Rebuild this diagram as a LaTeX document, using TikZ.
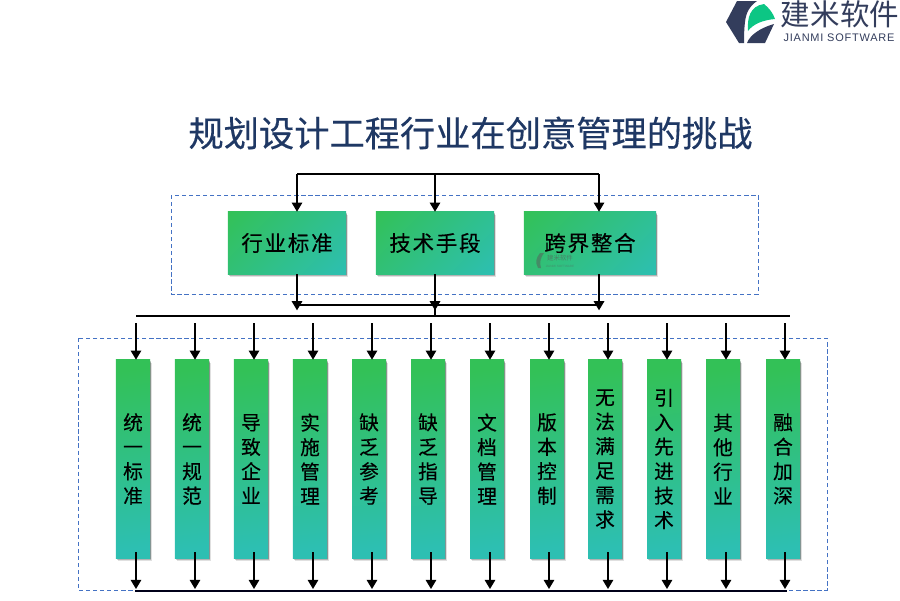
\documentclass[tikz,border=0pt]{standalone}
\usepackage{fontspec}
\setmainfont{Liberation Sans}
\newfontfamily\cjk{Noto Sans CJK SC}
\newfontfamily\cjkheavy[FakeBold=0.35]{Noto Sans CJK SC}
\newfontfamily\cjkwide[LetterSpace=8,FakeBold=0.35]{Noto Sans CJK SC}
\newfontfamily\subfont[LetterSpace=7]{Liberation Sans}
\usetikzlibrary{positioning,shadows,calc,arrows.meta}
\definecolor{navy}{HTML}{1F3864}
\definecolor{logoblue}{HTML}{333D5C}
\definecolor{leaf}{HTML}{0CC684}
\definecolor{dashblue}{HTML}{4472C4}
\definecolor{gtop}{HTML}{33C157}
\definecolor{gbot}{HTML}{2DBFB2}
\pgfdeclareverticalshading{boxramp}{100bp}{color(0bp)=(gbot); color(14.6bp)=(gbot); color(85.4bp)=(gtop); color(100bp)=(gtop)}

\begin{document}
\begin{tikzpicture}[
  x=0.025cm, y=-0.025cm,
  softshadow/.style={
    drop shadow={shadow xshift=0.4pt, shadow yshift=-0.9pt, fill=black, opacity=0.2},
    drop shadow={shadow xshift=1pt, shadow yshift=-1.5pt, fill=black, opacity=0.2},
    drop shadow={shadow xshift=1.6pt, shadow yshift=-2.2pt, fill=black, opacity=0.12}},
  hbox/.style={rectangle, minimum width=2.95cm, minimum height=1.55cm, inner sep=0pt,
    shading=boxramp, shading angle=45,
    softshadow, font=\cjkwide\fontsize{15.3}{18}\selectfont},
  vbox/.style={rectangle, minimum width=0.85cm, minimum height=4.95cm, inner sep=0pt,
    top color=gtop, bottom color=gbot, shading angle=8,
    softshadow, align=center, font=\cjkheavy\fontsize{14}{17.4}\selectfont},
  arrow/.style={-{Triangle[length=6.5pt,width=7.5pt]}, line width=0.95pt, black},
  bus/.style={line width=1.05pt, black},
  frame/.style={draw=dashblue, densely dashed, line width=0.45pt}
]
\useasboundingbox (0,0) rectangle (900,600);

% title
\node[text=navy, font=\cjkheavy\fontsize{25.07}{28}\selectfont] (title) at (470.5,133) {规划设计工程行业在创意管理的挑战};

% logo
\fill[logoblue] (737,1) -- (757,1) .. controls (750,6) and (746,12) .. (745,22) .. controls (744,30) and (744,37) .. (744,43) -- (739,43) -- (726,22) -- cycle;
\fill[logoblue] (747,43) .. controls (750,35) and (760,28) .. (774,24) -- (765,43) -- cycle;
\fill[leaf] (748,31) .. controls (747,18) and (750,6) .. (764,4) .. controls (769,8) and (773,13) .. (775,19) .. controls (763,20) and (753,24) .. (748,31) -- cycle;
\node[text=logoblue, font=\cjk\fontsize{21}{24}\selectfont] (brand) at (840,14) {建米软件};
\node[text=logoblue, font=\subfont\fontsize{7.8}{9}\selectfont] (brandsub) at (839,38) {JIANMI SOFTWARE};

% dashed frames
\draw[frame] (171,195) rectangle (758,294);
\draw[frame] (78,338) rectangle (827,590);

% upper boxes
\node[hbox] (std) at (287,243) {行业标准};
\node[hbox] (tech) at (435,243) {技术手段};
\node[hbox, minimum width=3.3cm] (cross) at (590,243) {跨界整合};

% watermark
\node[text=black!65, opacity=0.6, font=\cjk\fontsize{4.6}{6}\selectfont] (mark) at (560,258) {建米软件};
\node[text=black!65, opacity=0.45, font=\fontsize{2.2}{3}\selectfont] (marksub) at (560,266) {JIANMI SOFTWARE};
\fill[black!65, opacity=0.5] (540,253) .. controls (536,258) and (535,262) .. (538,268) -- (541,268) .. controls (539,262) and (541,257) .. (544,253) -- cycle;

% lower boxes
\foreach \i/\xc/\txt in {1/133/统\\一\\标\\准, 2/192/统\\一\\规\\范, 3/251/导\\致\\企\\业,
  4/310/实\\施\\管\\理, 5/369/缺\\乏\\参\\考, 6/428/缺\\乏\\指\\导, 7/487/文\\档\\管\\理,
  8/547/版\\本\\控\\制, 9/605/无\\法\\满\\足\\需\\求, 10/664/引\\入\\先\\进\\技\\术,
  11/723/其\\他\\行\\业, 12/783/融\\合\\加\\深}
  \node[vbox] (col\i) at (\xc,459) {\txt};

% bus ends
\coordinate (topL) at (297,174);
\coordinate (topM) at (435,174);
\coordinate (topR) at (599,174);
\coordinate (midL) at (297,305);
\coordinate (midR) at (599,305);
\coordinate (mainL) at (136,316);
\coordinate (mainR) at (790,316);
\coordinate (baseL) at (135,591);
\coordinate (baseR) at (787,591);

% top feed
\draw[bus] (topL) -- (topR);
\draw[arrow] (topL) -- (topL |- std.north);
\draw[arrow] (topM) -- (topM |- tech.north);
\draw[arrow] (topR) -- (topR |- cross.north);

% out of upper boxes
\draw[bus] (midL) -- (midR);
\draw[arrow] (topL |- std.south) -- ++(0,36);
\draw[arrow] (topM |- tech.south) -- ++(0,36);
\draw[arrow] (topR |- cross.south) -- ++(0,36);
\draw[bus] (topM |- midL) -- (topM |- mainL);
\draw[bus] (mainL) -- (mainR);

% columns
\foreach \i/\xa in {1/136,2/195,3/254,4/313,5/372,6/431,7/490,8/549,9/608,10/667,11/726,12/785}{
  \coordinate (feed\i) at (\xa,323);
  \draw[arrow] (feed\i) -- (feed\i |- col\i.north);
  \draw[arrow] (feed\i |- col\i.south) ++(0,-6) -- (\xa,589);
}
\draw[bus, draw=black!90!blue] (baseL) -- (baseR);

\end{tikzpicture}
\end{document}
